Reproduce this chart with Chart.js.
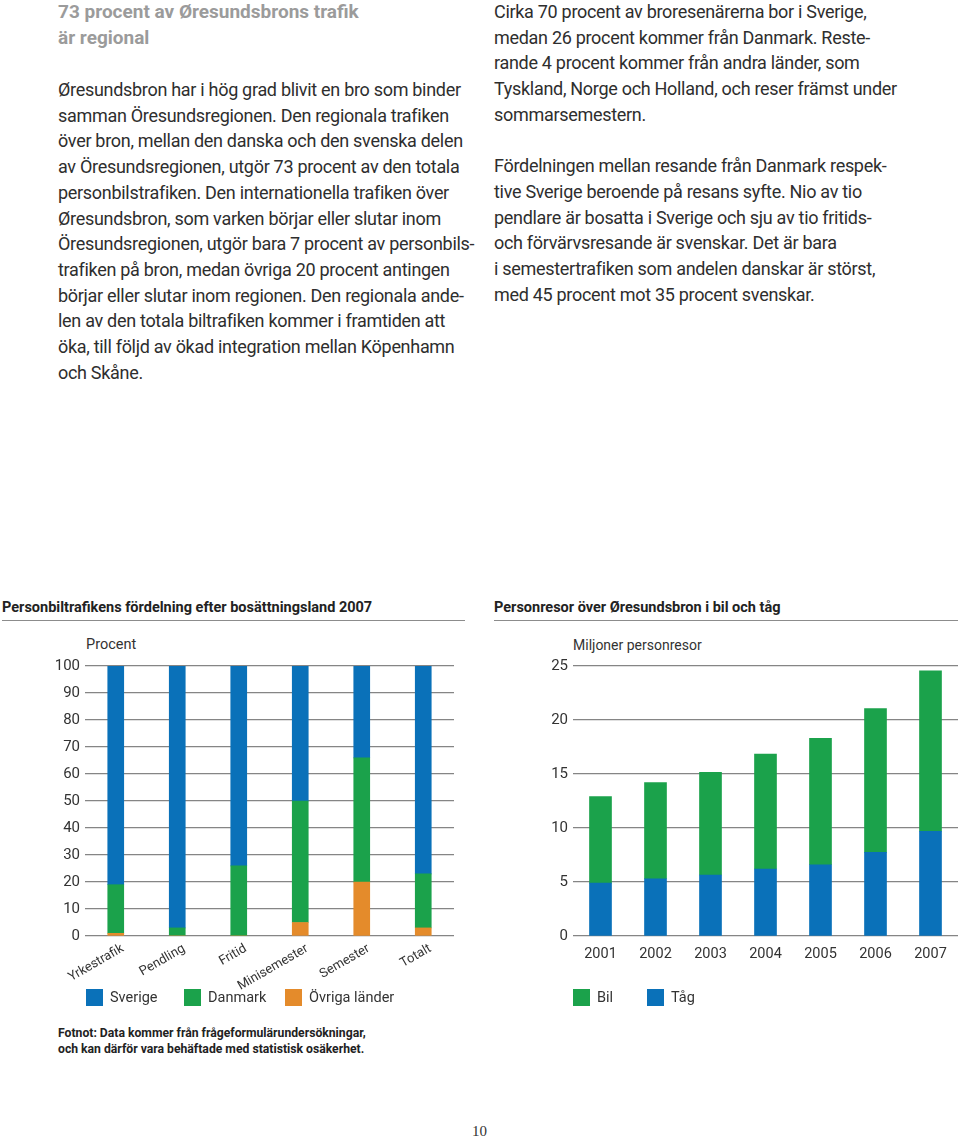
<!DOCTYPE html>
<html><head><meta charset="utf-8">
<script src="https://cdn.jsdelivr.net/npm/chart.js@4"></script>
<style>
html,body{margin:0;padding:0;background:#fff;}
body{width:960px;height:1140px;position:relative;overflow:hidden;font-family:Roboto,"Liberation Sans",sans-serif;color:#2e2e2e;}
.abs{position:absolute;white-space:nowrap;}
.head{left:58px;top:-1px;font-size:19px;font-weight:bold;color:#9b9b9b;line-height:25.5px;}
.p1{left:58px;top:77px;font-size:18px;line-height:25.7px;letter-spacing:-0.3px;}
.p2{left:494px;top:-1px;font-size:18px;line-height:25.7px;letter-spacing:-0.3px;}
.ctitle{font-size:14.5px;font-weight:bold;color:#222;top:599px;}
.rule{position:absolute;height:0;border-top:1.5px solid #8c8c8c;top:620px;}
.unit{font-size:14.5px;color:#333;}
.leg{position:absolute;top:989px;font-size:14.5px;color:#333;display:flex;align-items:center;}
.sw{display:inline-block;width:17px;height:17px;margin-right:7px;}
.foot{left:58px;top:1025px;font-size:12.2px;font-weight:bold;color:#222;line-height:16px;}
.pnum{left:472px;top:1123px;font-family:"Liberation Serif","DejaVu Serif",serif;font-size:15px;color:#333;}
canvas{position:absolute;}
</style></head>
<body>
<div class="abs head">73 procent av Øresundsbrons trafik<br>är regional</div>
<div class="abs p1">Øresundsbron har i hög grad blivit en bro som binder<br>samman Öresundsregionen. Den regionala trafiken<br>över bron, mellan den danska och den svenska delen<br>av Öresundsregionen, utgör 73 procent av den totala<br>personbilstrafiken. Den internationella trafiken över<br>Øresundsbron, som varken börjar eller slutar inom<br>Öresundsregionen, utgör bara 7 procent av personbils-<br>trafiken på bron, medan övriga 20 procent antingen<br>börjar eller slutar inom regionen. Den regionala ande-<br>len av den totala biltrafiken kommer i framtiden att<br>öka, till följd av ökad integration mellan Köpenhamn<br>och Skåne.</div>
<div class="abs p2">Cirka 70 procent av broresenärerna bor i Sverige,<br>medan 26 procent kommer från Danmark. Reste-<br>rande 4 procent kommer från andra länder, som<br>Tyskland, Norge och Holland, och reser främst under<br>sommarsemestern.<br><br>Fördelningen mellan resande från Danmark respek-<br>tive Sverige beroende på resans syfte. Nio av tio<br>pendlare är bosatta i Sverige och sju av tio fritids-<br>och förvärvsresande är svenskar. Det är bara<br>i semestertrafiken som andelen danskar är störst,<br>med 45 procent mot 35 procent svenskar.</div>

<div class="abs ctitle" style="left:2px;">Personbiltrafikens fördelning efter bosättningsland 2007</div>
<div class="rule" style="left:2px;width:463px;"></div>
<div class="abs ctitle" style="left:494px;">Personresor över Øresundsbron i bil och tåg</div>
<div class="rule" style="left:494px;width:464px;"></div>

<div class="abs unit" style="left:86px;top:636px;">Procent</div>
<div class="abs unit" style="left:573px;top:637px;font-size:14px;">Miljoner personresor</div>

<canvas id="c1" width="470" height="360" style="left:0;top:630px;width:470px;height:360px;"></canvas>
<canvas id="c2" width="470" height="360" style="left:490px;top:630px;width:470px;height:360px;"></canvas>

<div id="leg1"></div>
<div id="leg2"></div>

<div class="abs foot">Fotnot: Data kommer från frågeformulärundersökningar,<br>och kan därför vara behäftade med statistisk osäkerhet.</div>
<div class="abs pnum">10</div>

<script>
// ---- Data: chart 1 (percent by country of residence, 2007)
const purposes = ["Yrkestrafik","Pendling","Fritid","Minisemester","Semester","Totalt"];
const sverige  = [81, 97, 74, 50, 34, 77];
const danmark  = [18,  3, 26, 45, 46, 20];
const ovriga   = [ 1,  0,  0,  5, 20,  3];
const pctTicks = [0,10,20,30,40,50,60,70,80,90,100];

// ---- Data: chart 2 (million person trips)
const years = ["2001","2002","2003","2004","2005","2006","2007"];
const tag   = [4.9, 5.3, 5.65, 6.2, 6.6, 7.75, 9.7];
const bil   = [8.0, 8.9, 9.5, 10.65, 11.7, 13.3, 14.85];
const tripTicks = [0,5,10,15,20,25];

const BLUE="#0a71b9", GREEN="#1ba24b", ORANGE="#e48b2b";
const GRID="#858585", TXT="#333333";
const FONT="Roboto, 'Liberation Sans', sans-serif";

function yAxis(width, ticks, step, max, fontSize){
  return {
    type:'linear', min:0, max:max, stacked:true,
    afterFit(s){ s.width = width; },
    afterBuildTicks(s){ s.ticks = ticks.map(v=>({value:v})); },
    border:{display:false},
    grid:{color:GRID, lineWidth:1.3, drawTicks:false},
    ticks:{color:TXT, font:{family:FONT,size:fontSize}, padding:5, stepSize:step}
  };
}

new Chart(document.getElementById('c1'), {
  type:'bar',
  data:{
    labels:purposes,
    datasets:[
      {label:"Övriga länder", data:ovriga, backgroundColor:ORANGE},
      {label:"Danmark", data:danmark, backgroundColor:GREEN},
      {label:"Sverige", data:sverige, backgroundColor:BLUE}
    ]
  },
  options:{
    responsive:false, animation:false, devicePixelRatio:1,
    layout:{padding:{top:36,right:16,left:0,bottom:0}},
    plugins:{legend:{display:false}, tooltip:{enabled:false}},
    datasets:{bar:{barThickness:16, borderWidth:0}},
    scales:{
      x:{stacked:true, afterFit(s){ s.height = 54; },
         border:{display:false}, grid:{display:false, drawTicks:false},
         ticks:{color:TXT, font:{family:FONT,size:13}, minRotation:30, maxRotation:30, padding:5, labelOffset:7, autoSkip:false}},
      y:yAxis(85, pctTicks, 10, 100, 15)
    }
  }
});

new Chart(document.getElementById('c2'), {
  type:'bar',
  data:{
    labels:years,
    datasets:[
      {label:"Tåg", data:tag, backgroundColor:BLUE},
      {label:"Bil", data:bil, backgroundColor:GREEN}
    ]
  },
  options:{
    responsive:false, animation:false, devicePixelRatio:1,
    layout:{padding:{top:36,right:2,left:0,bottom:0}},
    plugins:{legend:{display:false}, tooltip:{enabled:false}},
    datasets:{bar:{barThickness:22, borderWidth:0}},
    scales:{
      x:{stacked:true, afterFit(s){ s.height = 54; },
         border:{display:false}, grid:{display:false, drawTicks:false},
         ticks:{color:TXT, font:{family:FONT,size:14.5}, maxRotation:0, padding:10}},
      y:yAxis(83, tripTicks, 5, 25, 15)
    }
  }
});

// HTML legends built from the series names
function legend(id, items){
  const host=document.getElementById(id);
  items.forEach(it=>{
    const d=document.createElement('div');
    d.className='leg';
    d.style.left=it.x+'px';
    d.innerHTML='<span class="sw" style="background:'+it.c+'"></span>'+it.t;
    host.appendChild(d);
  });
}
legend('leg1',[{t:"Sverige",c:BLUE,x:86},{t:"Danmark",c:GREEN,x:184},{t:"Övriga länder",c:ORANGE,x:285}]);
legend('leg2',[{t:"Bil",c:GREEN,x:573},{t:"Tåg",c:BLUE,x:647}]);
</script>
</body></html>
